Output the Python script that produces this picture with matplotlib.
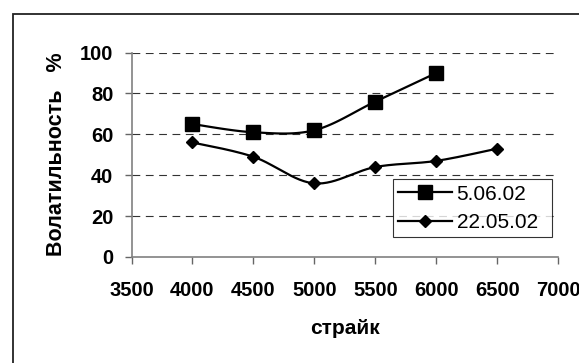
import numpy as np
import matplotlib
matplotlib.use("Agg")
import matplotlib.pyplot as plt
from matplotlib.patches import Rectangle

plt.rcParams['font.family'] = ['Liberation Sans', 'DejaVu Sans']

strikes_a = [4000, 4500, 5000, 5500, 6000]
vol_a = [65, 61, 62, 76, 90]
label_a = "5.06.02"

strikes_b = [4000, 4500, 5000, 5500, 6000, 6500]
vol_b = [56, 49, 36, 44, 47, 53]
label_b = "22.05.02"

xticks = [3500, 4000, 4500, 5000, 5500, 6000, 6500, 7000]
yticks = [0, 20, 40, 60, 80, 100]


def smooth(x, y, n=30):
    # Excel-style smoothed line (Bezier through points) for rendering only
    x = np.asarray(x, float); y = np.asarray(y, float)
    sx = (x - x.min()) / 500.0
    sy = y / 20.0
    P = np.column_stack([sx, sy])
    P = np.vstack([P[0], P, P[-1]])
    out = []
    t = np.linspace(0, 1, n)
    for i in range(1, len(P) - 2):
        p0, p1, p2, p3 = P[i - 1], P[i], P[i + 1], P[i + 2]
        c1 = p1 + (p2 - p0) / 6.0
        c2 = p2 - (p3 - p1) / 6.0
        seg = ((1 - t) ** 3)[:, None] * p1 + (3 * (1 - t) ** 2 * t)[:, None] * c1 + \
              (3 * (1 - t) * t ** 2)[:, None] * c2 + (t ** 3)[:, None] * p2
        out.append(seg)
    S = np.vstack(out)
    return S[:, 0] * 500.0 + x.min(), S[:, 1] * 20.0


W, H = 579, 363
fig = plt.figure(figsize=(W / 100, H / 100), dpi=100)
ax = fig.add_axes([131.5 / W, 1 - 257 / H, (558.3 - 131.5) / W, (257 - 52.5) / H])

# outer chart frame
fig.patches.append(Rectangle((12.7 / W, -0.1), 1.2, 1 - 14 / H + 0.1,
                             transform=fig.transFigure, fill=False,
                             edgecolor='#222222', linewidth=1.3))

for yv in yticks[1:]:
    ax.axhline(yv, color='#333333', linewidth=0.8, linestyle=(0, (7, 5)), zorder=1)

sx, sy = smooth(strikes_a, vol_a)
ax.plot(sx, sy, color='black', linewidth=1.6, zorder=3)
ax.plot(strikes_a, vol_a, linestyle='none', marker='s', markersize=10,
        color='black', zorder=4)
h_a, = ax.plot([], [], color='black', linewidth=1.6, marker='s', markersize=10)

sx, sy = smooth(strikes_b, vol_b)
ax.plot(sx, sy, color='black', linewidth=1.6, zorder=3)
ax.plot(strikes_b, vol_b, linestyle='none', marker='D', markersize=6.3,
        color='black', zorder=4)
h_b, = ax.plot([], [], color='black', linewidth=1.6, marker='D', markersize=6.3)

ax.set_xlim(3500, 7000)
ax.set_ylim(0, 100)
ax.set_xticks(xticks)
ax.set_yticks(yticks)
ax.set_xticklabels([str(v) for v in xticks], fontsize=14.5, fontweight='bold')
ax.set_yticklabels([str(v) for v in yticks], fontsize=14.5, fontweight='bold')
ax.tick_params(axis='both', direction='out', length=5, color='#666666', width=1)
ax.tick_params(axis='x', pad=12)
ax.tick_params(axis='y', pad=8)

for s in ['top', 'right']:
    ax.spines[s].set_visible(False)
for s in ['left', 'bottom']:
    ax.spines[s].set_color('#808080')
    ax.spines[s].set_linewidth(1.2)
ax.set_facecolor('none')

fig.text(345 / W, 1 - 329 / H, "страйк", ha='center', va='center',
         fontsize=15, fontweight='bold')
fig.text(57 / W, 1 - 154 / H, "Волатильность   %", ha='center', va='center',
         rotation=90, fontsize=15.5, fontweight='bold')

leg = fig.legend([h_a, h_b], [label_a, label_b], loc='center',
                 bbox_to_anchor=(393 / W, 1 - 241.7 / H, (551.7 - 393) / W, (241.7 - 175) / H),
                 mode='expand', frameon=True, fancybox=False, fontsize=15,
                 handlelength=2.6, handletextpad=0.2, borderpad=0.25, labelspacing=0.45,
                 borderaxespad=0)
leg.get_frame().set_edgecolor('black')
leg.get_frame().set_linewidth(0.8)

fig.savefig("out.png", dpi=100)
